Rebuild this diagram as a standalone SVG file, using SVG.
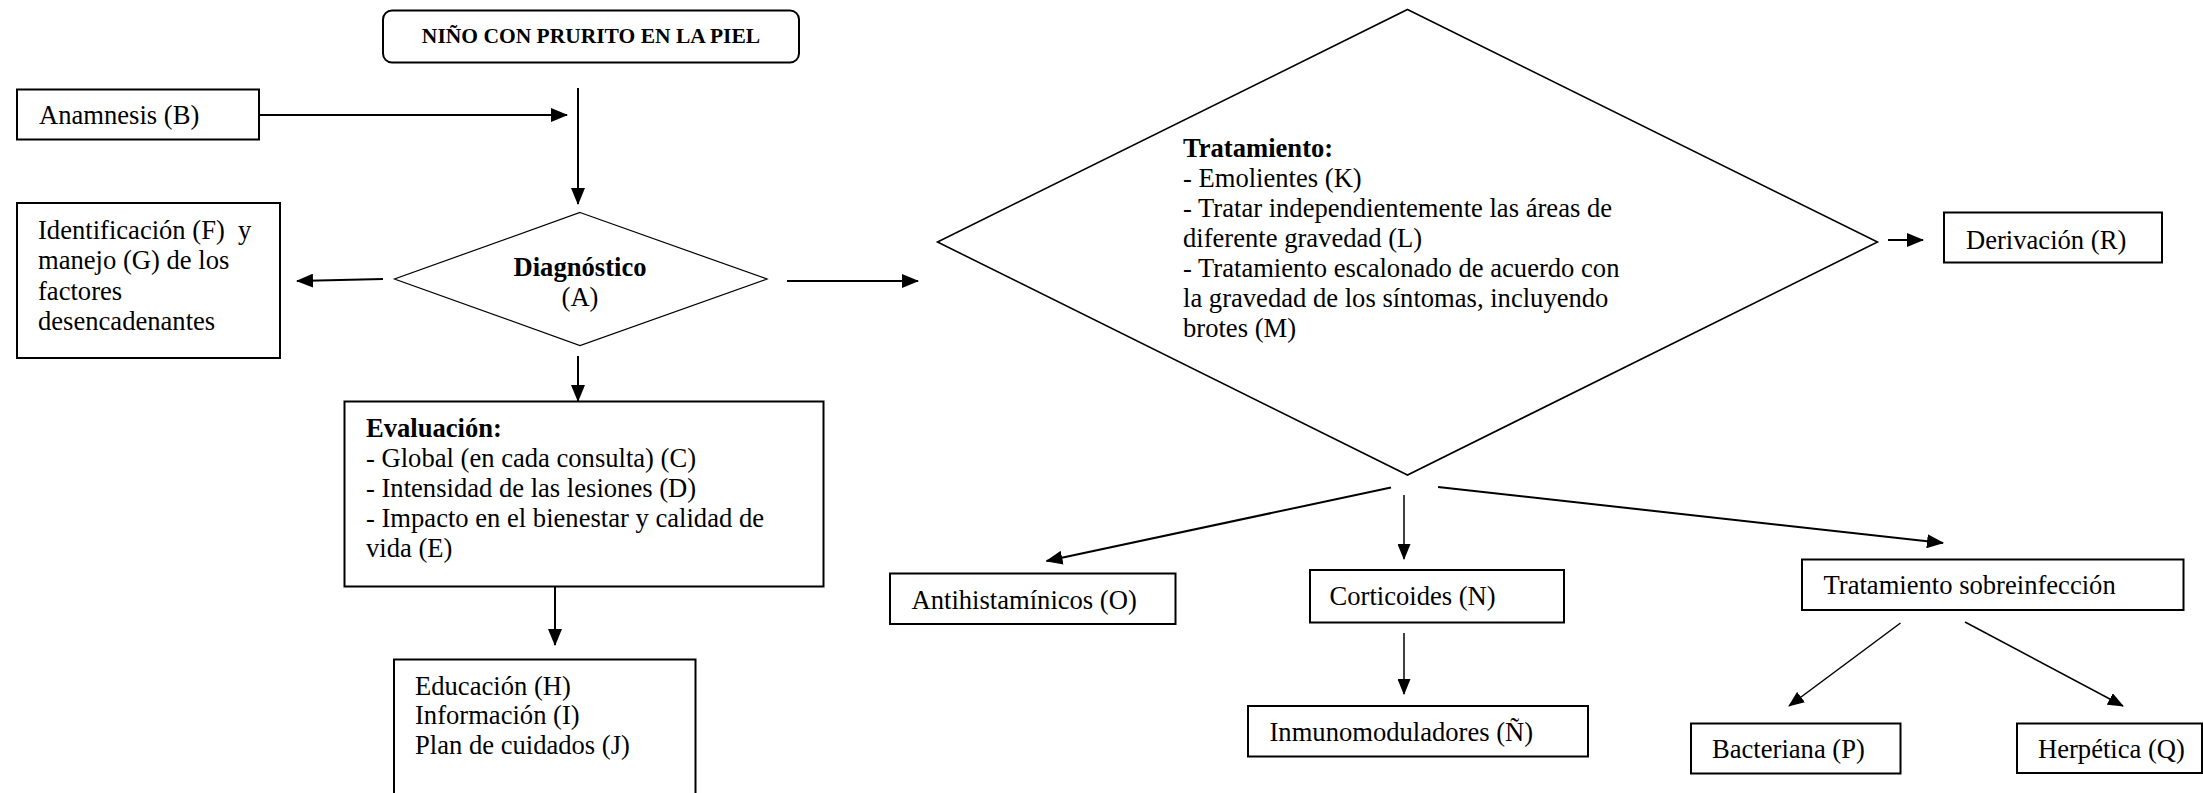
<svg xmlns="http://www.w3.org/2000/svg" width="2203" height="793" viewBox="0 0 2203 793">
<defs>
<style>
.box{fill:#fff;stroke:#000;stroke-width:2}
.dia{fill:#fff;stroke:#000}
.t{font-family:"Liberation Serif","Times New Roman",serif;font-size:26.6px;fill:#000;white-space:pre}
.b{font-weight:bold}
.c{stroke:#000;stroke-width:2;fill:none}
.c2{stroke:#000;stroke-width:1.5;fill:none}
</style>
<marker id="ah" markerUnits="userSpaceOnUse" markerWidth="17" markerHeight="14" refX="16" refY="7" orient="auto">
<path d="M0,0 L17,7 L0,14 z" fill="#000"/>
</marker>
<marker id="ahs" markerUnits="userSpaceOnUse" markerWidth="16" markerHeight="13" refX="15" refY="6.5" orient="auto">
<path d="M0,0 L16,6.5 L0,13 z" fill="#000"/>
</marker>
</defs>
<rect width="2203" height="793" fill="#fff"/>

<g id="connectors">
<line class="c" x1="259" y1="115" x2="567" y2="115" marker-end="url(#ah)"/>
<line class="c" x1="578" y1="88" x2="578" y2="204" marker-end="url(#ah)"/>
<line class="c" x1="383" y1="279" x2="297" y2="281" marker-end="url(#ah)"/>
<line class="c" x1="787" y1="281" x2="918" y2="281" marker-end="url(#ah)"/>
<line class="c" x1="578" y1="356" x2="578" y2="401" marker-end="url(#ah)"/>
<line class="c" x1="555" y1="587" x2="555" y2="645" marker-end="url(#ah)"/>
<line class="c" x1="1888" y1="240" x2="1923" y2="240" marker-end="url(#ah)"/>
<line class="c" x1="1391" y1="487.5" x2="1046.5" y2="561" marker-end="url(#ah)"/>
<line class="c2" x1="1404" y1="495" x2="1404" y2="559" marker-end="url(#ahs)"/>
<line class="c" x1="1438" y1="487" x2="1943" y2="543" marker-end="url(#ah)"/>
<line class="c2" x1="1404" y1="633" x2="1404" y2="694" marker-end="url(#ahs)"/>
<line class="c2" x1="1900.5" y1="623" x2="1789" y2="706" marker-end="url(#ahs)"/>
<line class="c2" x1="1965" y1="622" x2="2123" y2="706" marker-end="url(#ahs)"/>
</g>

<g id="nino">
<rect class="box" x="383" y="10.5" width="416" height="52" rx="9"/>
<text class="t b" x="591" y="43" text-anchor="middle" style="font-size:21.5px">NIÑO CON PRURITO EN LA PIEL</text>
</g>

<g id="anamnesis">
<rect class="box" x="17" y="89.5" width="242" height="50"/>
<text class="t" x="39" y="123.5">Anamnesis (B)</text>
</g>

<g id="diagnostico">
<polygon class="dia" stroke-width="1.2" points="580,212.5 767,279 580,345.5 394.5,279"/>
<text class="t b" x="580" y="276" text-anchor="middle">Diagnóstico</text>
<text class="t" x="580" y="306" text-anchor="middle">(A)</text>
</g>

<g id="identificacion">
<rect class="box" x="17" y="203" width="263" height="155"/>
<text class="t" x="38" y="239" xml:space="preserve">Identificación (F)  y</text>
<text class="t" x="38" y="269">manejo (G) de los</text>
<text class="t" x="38" y="299.5">factores</text>
<text class="t" x="38" y="330">desencadenantes</text>
</g>

<g id="evaluacion">
<rect class="box" x="344.5" y="401.5" width="479" height="185"/>
<text class="t b" x="366" y="437">Evaluación:</text>
<text class="t" x="366" y="467">- Global (en cada consulta) (C)</text>
<text class="t" x="366" y="497">- Intensidad de las lesiones (D)</text>
<text class="t" x="366" y="527">- Impacto en el bienestar y calidad de</text>
<text class="t" x="366" y="557">vida (E)</text>
</g>

<g id="educacion">
<rect class="box" x="394" y="659.5" width="301.5" height="160"/>
<text class="t" x="415" y="694.5">Educación (H)</text>
<text class="t" x="415" y="724">Información (I)</text>
<text class="t" x="415" y="754">Plan de cuidados (J)</text>
</g>

<g id="tratamiento">
<polygon class="dia" stroke-width="1.6" points="1407.5,9.5 1877.5,242 1407.5,475 937.5,242"/>
<text class="t b" x="1183" y="156.5">Tratamiento:</text>
<text class="t" x="1183" y="186.5">- Emolientes (K)</text>
<text class="t" x="1183" y="216.5">- Tratar independientemente las áreas de</text>
<text class="t" x="1183" y="246.5">diferente gravedad (L)</text>
<text class="t" x="1183" y="276.5">- Tratamiento escalonado de acuerdo con</text>
<text class="t" x="1183" y="306.5">la gravedad de los síntomas, incluyendo</text>
<text class="t" x="1183" y="336.5">brotes (M)</text>
</g>

<g id="derivacion">
<rect class="box" x="1944" y="212.5" width="218" height="50"/>
<text class="t" x="1966" y="248.5">Derivación (R)</text>
</g>

<g id="antihistaminicos">
<rect class="box" x="890" y="573.5" width="285.5" height="50.5"/>
<text class="t" x="911.5" y="608.5">Antihistamínicos (O)</text>
</g>

<g id="corticoides">
<rect class="box" x="1310" y="570" width="254" height="52.5"/>
<text class="t" x="1329.5" y="605">Corticoides (N)</text>
</g>

<g id="inmunomoduladores">
<rect class="box" x="1248" y="706" width="340" height="50.5"/>
<text class="t" x="1269.5" y="740.5">Inmunomoduladores (Ñ)</text>
</g>

<g id="sobreinfeccion">
<rect class="box" x="1802" y="559.5" width="381.5" height="50.5"/>
<text class="t" x="1823.5" y="594">Tratamiento sobreinfección</text>
</g>

<g id="bacteriana">
<rect class="box" x="1691" y="723.5" width="209.5" height="50"/>
<text class="t" x="1712" y="757.5">Bacteriana (P)</text>
</g>

<g id="herpetica">
<rect class="box" x="2017" y="723.5" width="185" height="49.5"/>
<text class="t" x="2038" y="758">Herpética (Q)</text>
</g>
</svg>
